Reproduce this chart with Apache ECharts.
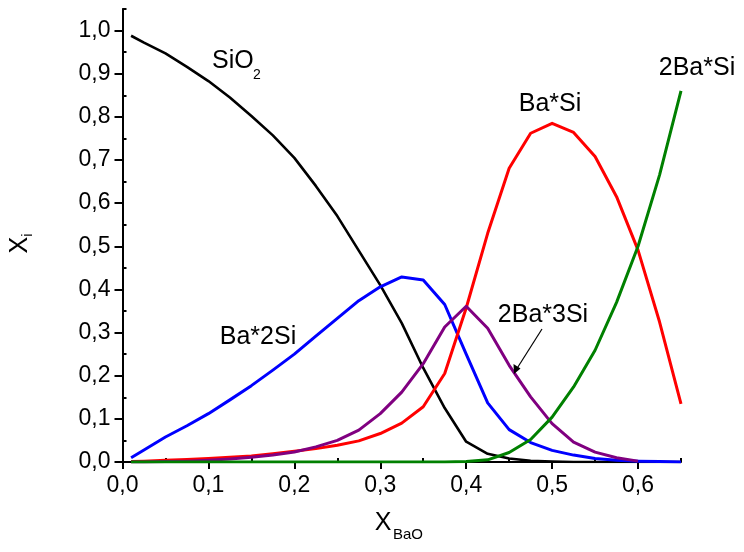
<!DOCTYPE html>
<html>
<head>
<meta charset="utf-8">
<script src="https://cdn.jsdelivr.net/npm/echarts@6/dist/echarts.min.js"></script>
<style>
  html, body { margin: 0; padding: 0; background: #fff; }
  #chart { width: 744px; height: 552px; }
</style>
</head>
<body>
<div id="chart"></div>
<script>
// Mole fractions of species vs. BaO content
const xBaO = [0.01, 0.025, 0.05, 0.075, 0.1, 0.125, 0.15, 0.175, 0.2, 0.225, 0.25, 0.275, 0.3, 0.325,
              0.35, 0.375, 0.4, 0.425, 0.45, 0.475, 0.5, 0.525, 0.55, 0.575, 0.6, 0.625, 0.65];

const sio2   = [0.988, 0.972, 0.947, 0.916, 0.883, 0.845, 0.802, 0.757, 0.705, 0.640, 0.570, 0.490, 0.410, 0.322,
                0.218, 0.125, 0.047, 0.019, 0.008, 0.003, 0.001, 0.000, 0.000, 0.000, 0.000, 0.000, 0.000];
const ba2si  = [0.010, 0.028, 0.058, 0.084, 0.112, 0.144, 0.177, 0.213, 0.250, 0.292, 0.333, 0.374, 0.406, 0.429,
                0.422, 0.365, 0.250, 0.137, 0.075, 0.045, 0.027, 0.016, 0.008, 0.004, 0.002, 0.001, 0.000];
const basi   = [0.001, 0.002, 0.004, 0.006, 0.008, 0.011, 0.014, 0.019, 0.025, 0.031, 0.039, 0.049, 0.066, 0.090,
                0.128, 0.205, 0.357, 0.530, 0.681, 0.762, 0.785, 0.764, 0.708, 0.615, 0.491, 0.325, 0.135];
const ba2si3 = [0.000, 0.000, 0.001, 0.002, 0.004, 0.007, 0.011, 0.016, 0.023, 0.035, 0.050, 0.074, 0.112, 0.162,
                0.228, 0.313, 0.361, 0.310, 0.224, 0.151, 0.089, 0.046, 0.023, 0.010, 0.002, null, null];
const ba2si1 = [0.000, 0.000, 0.000, 0.000, 0.000, 0.000, 0.000, 0.000, 0.000, 0.000, 0.000, 0.000, 0.000, 0.000,
                0.000, 0.000, 0.001, 0.005, 0.022, 0.052, 0.104, 0.174, 0.259, 0.370, 0.500, 0.665, 0.860];

// Axis ticks
const xMajorTicks = [0.0, 0.1, 0.2, 0.3, 0.4, 0.5, 0.6];
const xMinorTicks = [0.05, 0.15, 0.25, 0.35, 0.45, 0.55, 0.65];
const yMajorTicks = [0.0, 0.1, 0.2, 0.3, 0.4, 0.5, 0.6, 0.7, 0.8, 0.9, 1.0];
const yMinorTicks = [0.05, 0.15, 0.25, 0.35, 0.45, 0.55, 0.65, 0.75, 0.85, 0.95, 1.05];

const FONT = '"Liberation Sans", Arial, sans-serif';
const pair = arr => xBaO.map((x, i) => [x, arr[i]]);
const fmt = v => v.toFixed(1).replace('.', ',');

const chart = echarts.init(document.getElementById('chart'), null, { renderer: 'canvas' });

const majorAxis = (min, max, ticks, isY) => ({
  type: 'value', min, max,
  axisLine: { show: true, onZero: false, lineStyle: { color: '#000', width: 2 } },
  axisTick: { show: true, inside: false, length: isY ? 8 : 7, customValues: ticks, lineStyle: { color: '#000', width: 2 } },
  axisLabel: { show: true, customValues: ticks, formatter: fmt, color: '#000', fontSize: 23, fontFamily: FONT, margin: 12 },
  splitLine: { show: false }
});
const minorAxis = (min, max, ticks) => ({
  type: 'value', min, max,
  axisLine: { show: false },
  axisTick: { show: true, inside: false, length: 4, customValues: ticks, lineStyle: { color: '#000', width: 2 } },
  axisLabel: { show: false },
  splitLine: { show: false }
});

const line = (name, arr, color, width) => ({
  name, type: 'line', data: pair(arr), xAxisIndex: 0, yAxisIndex: 0,
  showSymbol: false, symbol: 'none', connectNulls: false, animation: false,
  lineStyle: { color, width, join: 'round' }, itemStyle: { color }
});

const label = (text, x, y, size) => ({
  type: 'text', x, y, z: 100,
  style: { text, fill: '#000', fontSize: size || 25, fontFamily: FONT, align: 'center', verticalAlign: 'middle' }
});

const yAxisMain = majorAxis(0, 1.05, yMajorTicks, true);
Object.assign(yAxisMain, {
  name: '{m|X}{s|i}',
  nameLocation: 'middle',
  nameRotate: 90,
  nameGap: 87,
  nameTextStyle: {
    color: '#000', fontFamily: FONT,
    padding: [0, 16, 0, 0],
    rich: {
      m: { fontSize: 25, lineHeight: 30, fontFamily: FONT, color: '#000' },
      s: { fontSize: 15, lineHeight: 15, verticalAlign: 'bottom', fontFamily: FONT, color: '#000' }
    }
  }
});

chart.setOption({
  animation: false,
  backgroundColor: '#fff',
  grid: { left: 120, right: 63, top: 9, bottom: 90, containLabel: false },
  xAxis: [majorAxis(0, 0.65, xMajorTicks, false), minorAxis(0, 0.65, xMinorTicks)],
  yAxis: [yAxisMain, minorAxis(0, 1.05, yMinorTicks)],
  series: [
    line('SiO2', sio2, '#000000', 2.6),
    line('Ba*2Si', ba2si, '#0000ff', 3),
    line('Ba*Si', basi, '#ff0000', 3),
    line('2Ba*3Si', ba2si3, '#800080', 3),
    line('2Ba*Si', ba2si1, '#008000', 3)
  ],
  graphic: [
    // curve labels
    { type: 'text', x: 212, y: 61, z: 100, style: { text: 'SiO', fill: '#000', fontSize: 25, fontFamily: FONT, align: 'left', verticalAlign: 'middle' } },
    { type: 'text', x: 253, y: 75, z: 100, style: { text: '2', fill: '#000', fontSize: 14, fontFamily: FONT, align: 'left', verticalAlign: 'middle' } },
    label('Ba*Si', 550, 104),
    label('2Ba*Si', 697, 68),
    label('Ba*2Si', 258, 337),
    label('2Ba*3Si', 543, 315),
    // arrow pointing to 2Ba*3Si curve
    { type: 'line', z: 100, shape: { x1: 542, y1: 329, x2: 516, y2: 370 }, style: { stroke: '#000', lineWidth: 1.2 } },
    { type: 'polygon', z: 100, shape: { points: [[514, 374], [513.5, 364], [520.5, 368.5]] }, style: { fill: '#000' } },
    // x axis title
    { type: 'text', x: 383, y: 523, z: 100, style: { text: 'X', fill: '#000', fontSize: 25, fontFamily: FONT, align: 'center', verticalAlign: 'middle' } },
    { type: 'text', x: 393, y: 535, z: 100, style: { text: 'BaO', fill: '#000', fontSize: 15, fontFamily: FONT, align: 'left', verticalAlign: 'middle' } }
  ]
});
</script>
</body>
</html>
